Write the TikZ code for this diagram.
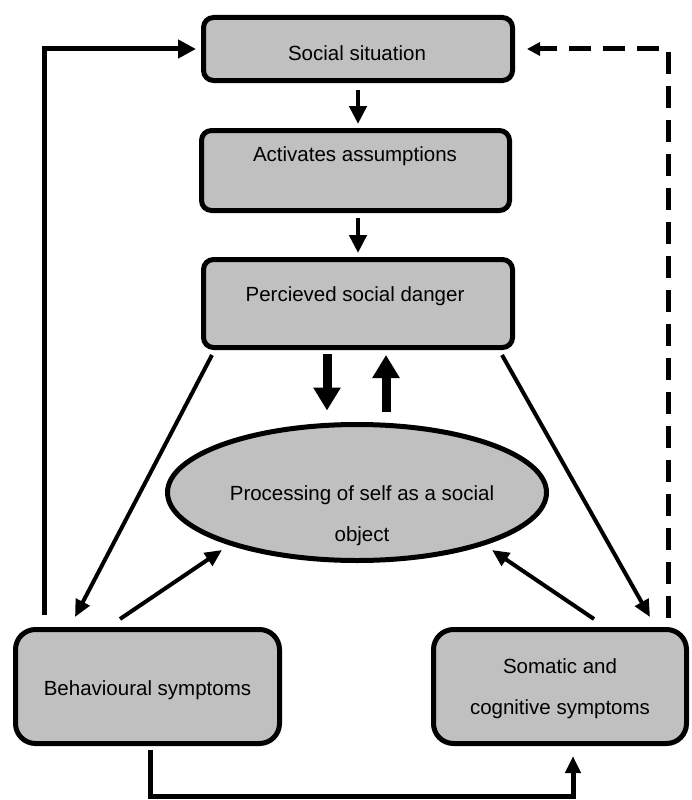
\documentclass[tikz,border=0pt]{standalone}
\usepackage{fontspec}
\setmainfont{Liberation Sans}
\usetikzlibrary{arrows.meta,shapes.geometric}
\definecolor{boxgrey}{RGB}{192,192,192}
\begin{document}
\begin{tikzpicture}[x=1pt,y=1pt,
  every node/.style={font=\fontsize{20.5}{41}\selectfont},
  box/.style={draw=black, fill=boxgrey, line width=5pt, rounded corners=10pt, outer sep=0pt, inner sep=0pt},
  bigbox/.style={box, rounded corners=20pt},
  ellbox/.style={draw=black, fill=boxgrey, line width=5pt, ellipse, outer sep=0pt, inner sep=0pt},
  txt/.style={inner sep=0pt, align=center},
  conn/.style={line width=5pt, -{Triangle[length=18pt,width=18pt]}},
  dconn/.style={line width=5pt, dash pattern=on 22pt off 12pt, -{Triangle[length=13pt,width=13pt]}},
  smallarr/.style={line width=4.5pt, -{Triangle[length=18pt,width=17pt]}},
  thickarr/.style={line width=9pt, -{Triangle[length=23pt,width=26pt]}},
  diag/.style={line width=4pt, -{Triangle[length=17pt,width=15pt]}}
]
\useasboundingbox (0,0) rectangle (691,-800);

% boxes
\node[box, minimum width=309pt, minimum height=63pt] (soc) at (358,-49) {};
\node[box, minimum width=308pt, minimum height=80pt] (act) at (355.5,-170.5) {};
\node[box, minimum width=309pt, minimum height=88pt] (per) at (358,-303.5) {};
\node[ellbox, minimum width=379pt, minimum height=136pt] (ell) at (357,-492.5) {};
\node[bigbox, minimum width=264pt, minimum height=114pt] (beh) at (147.5,-686.5) {};
\node[bigbox, minimum width=253pt, minimum height=114pt] (som) at (560,-686.5) {};

% texts
\node[txt, anchor=base] (soct) at (357,-60.5) {Social situation};
\node[txt, anchor=base] (actt) at (355,-161.5) {Activates assumptions};
\node[txt, anchor=base] (pert) at (355,-301.5) {Percieved social danger};
\node[txt] (ellt) at (362,-515.5) {Processing of self as a social\\object};
\node[txt, anchor=base] (beht) at (147.5,-695.5) {Behavioural symptoms};
\node[txt] (somt) at (560,-689) {Somatic and\\cognitive symptoms};

% vertical chain
\draw[smallarr, shorten <=9.5pt, shorten >=6.5pt] (soc.south) -- (soc.south |- act.north);
\draw[smallarr, shorten <=7.5pt, shorten >=6.5pt] ([xshift=2.5pt]act.south) -- ([xshift=2.5pt]act.south |- per.north);

% danger <-> processing
\draw[thickarr, shorten <=6.5pt, shorten >=14pt] ([xshift=-31pt]per.south) -- ([xshift=-31pt]per.south |- ell.north);
\draw[thickarr, shorten <=12.5pt, shorten >=7.5pt] ([xshift=28pt]per.south |- ell.north) -- ([xshift=28pt]per.south);

% diagonals from danger
\draw[diag] ([shift={(8.5,-7.5)}]per.south west) -- ([shift={(59.5,12.5)}]beh.north west);
\draw[diag] ([shift={(-10.5,-7.5)}]per.south east) -- ([shift={(-36.5,12.5)}]som.north east);

% symptoms -> processing
\draw[diag] ([shift={(104.5,10.5)}]beh.north west) -- ([shift={(-135,-57.5)}]ell.center);
\draw[diag] ([shift={(160.5,10.5)}]som.north west) -- ([shift={(135,-57.5)}]ell.center);

% feedback loops
\draw[conn, shorten >=7.5pt] ([shift={(-103,71.5)}]beh.center) |- (soc.west);
\draw[dconn, shorten >=14.5pt] ([shift={(108,68.5)}]som.center) |- (soc.east);
\draw[conn, -{Triangle[length=17pt,width=15pt]}] ([shift={(2.5,-6.5)}]beh.south) -- ++(0,-46) -| ([shift={(13,-12.5)}]som.south);
\end{tikzpicture}
\end{document}
